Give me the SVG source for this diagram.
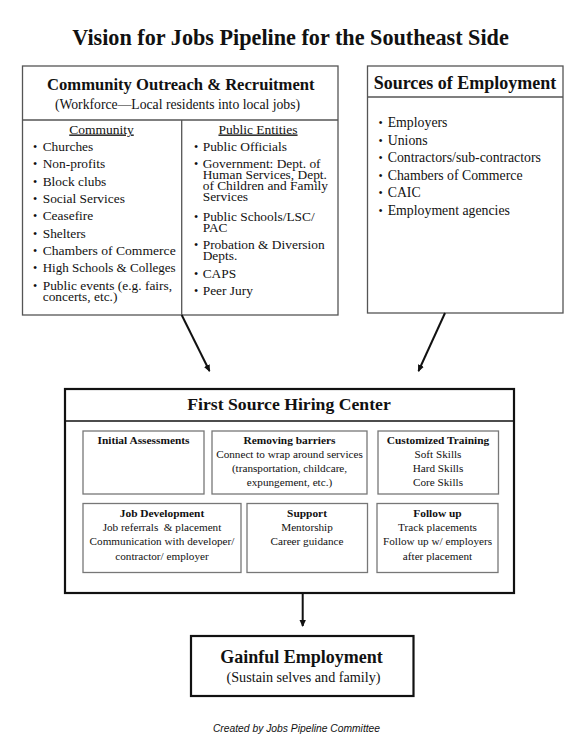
<svg xmlns="http://www.w3.org/2000/svg" width="584" height="755" viewBox="0 0 584 755">
<style>
text{font-family:"Liberation Serif","DejaVu Serif",serif;fill:#111}
.title{font-size:22.2px;font-weight:bold;text-anchor:middle}
.h1{font-size:18px;font-weight:bold;text-anchor:middle}
.h1s{font-size:16.6px;font-weight:bold;text-anchor:middle}
.sub{font-size:13.7px;text-anchor:middle}
.colh{font-size:13.5px;text-anchor:middle;text-decoration:underline}
.item{font-size:13.4px}
.bul{font-size:12px;text-anchor:middle}
.ib{font-size:11.4px;font-weight:bold;text-anchor:middle}
.it{font-size:11.2px;text-anchor:middle}
.foot{font-family:"Liberation Sans","DejaVu Sans",sans-serif;font-size:10.3px;font-style:italic;text-anchor:middle}
.box{fill:#fff;stroke:#555;stroke-width:1.3}
.thick{fill:#fff;stroke:#111;stroke-width:2.2}
.inner{fill:#fff;stroke:#777;stroke-width:1.3}
.line{stroke:#555;stroke-width:1.3;fill:none}
.arrow{stroke:#111;stroke-width:2;fill:none;marker-end:url(#ah)}
</style>
<defs>
<marker id="ah" markerWidth="8" markerHeight="8" refX="6" refY="4" orient="auto" markerUnits="userSpaceOnUse">
<path d="M0,0.8 L7,4 L0,7.2 z" fill="#111"/>
</marker>
</defs>
<rect width="584" height="755" fill="#fff"/>
<text class="title" x="290.5" y="45">Vision for Jobs Pipeline for the Southeast Side</text>

<g id="community-outreach">
<rect class="box" x="22.5" y="66" width="315.5" height="249"/>
<line class="line" x1="22.5" y1="120" x2="338" y2="120"/>
<line class="line" x1="181.7" y1="120" x2="181.7" y2="315"/>
<text class="h1s" x="180.8" y="90">Community Outreach &amp; Recruitment</text>
<text class="sub" x="177.5" y="109">(Workforce—Local residents into local jobs)</text>
<text class="colh" x="101.5" y="133.5">Community</text>
<text class="colh" x="258" y="133.5">Public Entities</text>
<g class="bul">
<text x="35" y="151">•</text>
<text x="35" y="168.3">•</text>
<text x="35" y="185.7">•</text>
<text x="35" y="203">•</text>
<text x="35" y="220.4">•</text>
<text x="35" y="237.7">•</text>
<text x="35" y="255">•</text>
<text x="35" y="272.4">•</text>
<text x="35" y="289.8">•</text>
<text x="196" y="151">•</text>
<text x="196" y="168">•</text>
<text x="196" y="220.5">•</text>
<text x="196" y="248.5">•</text>
<text x="196" y="277.5">•</text>
<text x="196" y="295">•</text>
</g>
<g class="item">
<text x="42.7" y="151">Churches</text>
<text x="42.7" y="168.3">Non-profits</text>
<text x="42.7" y="185.7">Block clubs</text>
<text x="42.7" y="203">Social Services</text>
<text x="42.7" y="220.4">Ceasefire</text>
<text x="42.7" y="237.7">Shelters</text>
<text x="42.7" y="255" textLength="133" lengthAdjust="spacingAndGlyphs">Chambers of Commerce</text>
<text x="42.7" y="272.4" textLength="133" lengthAdjust="spacingAndGlyphs">High Schools &amp; Colleges</text>
<text x="42.7" y="289.8">Public events (e.g. fairs,</text>
<text x="42.7" y="301">concerts, etc.)</text>
<text x="202.7" y="151">Public Officials</text>
<text x="202.7" y="168">Government: Dept. of</text>
<text x="202.7" y="179">Human Services, Dept.</text>
<text x="202.7" y="190">of Children and Family</text>
<text x="202.7" y="201">Services</text>
<text x="202.7" y="220.5">Public Schools/LSC/</text>
<text x="202.7" y="231.5">PAC</text>
<text x="202.7" y="248.5">Probation &amp; Diversion</text>
<text x="202.7" y="259.5">Depts.</text>
<text x="202.7" y="277.5">CAPS</text>
<text x="202.7" y="295">Peer Jury</text>
</g>
</g>

<g id="sources-of-employment">
<rect class="box" x="367.5" y="66" width="195.5" height="247"/>
<line class="line" x1="367.5" y1="97" x2="563" y2="97"/>
<text class="h1" x="465" y="88.5">Sources of Employment</text>
<g class="bul">
<text x="380.7" y="127">•</text>
<text x="380.7" y="144.5">•</text>
<text x="380.7" y="162">•</text>
<text x="380.7" y="179.5">•</text>
<text x="380.7" y="197">•</text>
<text x="380.7" y="214.5">•</text>
</g>
<g class="item" style="font-size:13.8px">
<text x="387.7" y="127">Employers</text>
<text x="387.7" y="144.5">Unions</text>
<text x="387.7" y="162">Contractors/sub-contractors</text>
<text x="387.7" y="179.5">Chambers of Commerce</text>
<text x="387.7" y="197">CAIC</text>
<text x="387.7" y="214.5">Employment agencies</text>
</g>
</g>

<g id="hiring-center">
<rect class="thick" x="65" y="389" width="449" height="204"/>
<line x1="65" y1="421" x2="514" y2="421" stroke="#111" stroke-width="1.5"/>
<text class="h1" x="289" y="409.5" style="font-size:17.7px">First Source Hiring Center</text>

<g id="initial-assessments">
<rect class="inner" x="83" y="431" width="121" height="63"/>
<text class="ib" x="143.5" y="443.5">Initial Assessments</text>
</g>
<g id="removing-barriers">
<rect class="inner" x="212" y="431" width="155" height="63"/>
<text class="ib" x="289.5" y="443.5">Removing barriers</text>
<text class="it" x="289.5" y="457.7">Connect to wrap around services</text>
<text class="it" x="289.5" y="472">(transportation, childcare,</text>
<text class="it" x="289.5" y="486.3">expungement, etc.)</text>
</g>
<g id="customized-training">
<rect class="inner" x="378" y="431" width="120.5" height="63"/>
<text class="ib" x="438" y="443.5">Customized Training</text>
<text class="it" x="438" y="457.7">Soft Skills</text>
<text class="it" x="438" y="472">Hard Skills</text>
<text class="it" x="438" y="486.3">Core Skills</text>
</g>
<g id="job-development">
<rect class="inner" x="83" y="503.5" width="158" height="69"/>
<text class="ib" x="162" y="516.5">Job Development</text>
<text class="it" x="162" y="530.8" xml:space="preserve">Job referrals  &amp; placement</text>
<text class="it" x="162" y="545.2">Communication with developer/</text>
<text class="it" x="162" y="559.5">contractor/ employer</text>
</g>
<g id="support">
<rect class="inner" x="247" y="503.5" width="120.5" height="69"/>
<text class="ib" x="307" y="516.5">Support</text>
<text class="it" x="307" y="530.8">Mentorship</text>
<text class="it" x="307" y="545.2">Career guidance</text>
</g>
<g id="follow-up">
<rect class="inner" x="377" y="503.5" width="121" height="69"/>
<text class="ib" x="437.5" y="516.5">Follow up</text>
<text class="it" x="437.5" y="530.8">Track placements</text>
<text class="it" x="437.5" y="545.2">Follow up w/ employers</text>
<text class="it" x="437.5" y="559.5">after placement</text>
</g>
</g>

<g id="gainful-employment">
<rect class="thick" x="191" y="636" width="222.5" height="60"/>
<text class="h1" x="301.5" y="663">Gainful Employment</text>
<text class="sub" x="303.5" y="682" style="font-size:14.2px">(Sustain selves and family)</text>
</g>

<g id="connectors">
<line class="arrow" x1="181.7" y1="315" x2="209.5" y2="371"/>
<line class="arrow" x1="445" y1="313" x2="418.5" y2="371"/>
<line class="arrow" x1="302.7" y1="593" x2="302.7" y2="626"/>
</g>

<text class="foot" x="296.5" y="732">Created by Jobs Pipeline Committee</text>
</svg>
